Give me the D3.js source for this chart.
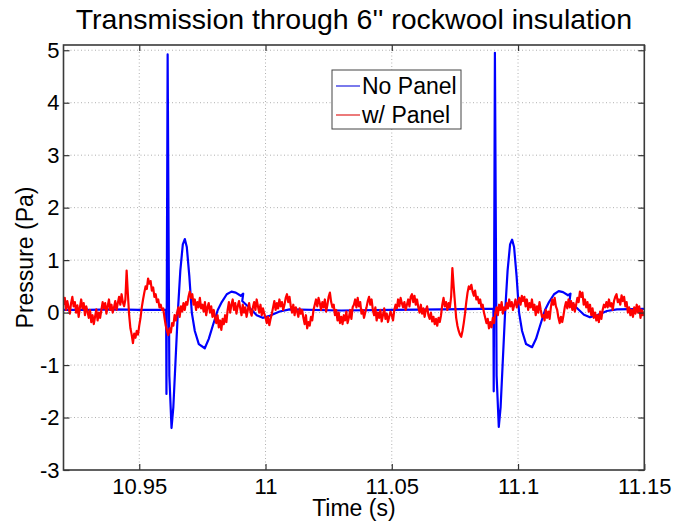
<!DOCTYPE html>
<html><head><meta charset="utf-8">
<script src="https://cdn.jsdelivr.net/npm/d3@7"></script>
<style>
html,body{margin:0;padding:0;background:#fff;}
svg text{font-family:"Liberation Sans",Arial,Helvetica,sans-serif;fill:#000;}
</style></head>
<body>
<svg id="chart" width="675" height="522"></svg>
<script>
// ---- data ----
const titleText = "Transmission through 6'' rockwool insulation";
const xLabel = "Time (s)";
const yLabel = "Pressure (Pa)";
const xTicks = [10.95, 11, 11.05, 11.1, 11.15];
const xTickLabels = ["10.95", "11", "11.05", "11.1", "11.15"];
const yTicks = [-3, -2, -1, 0, 1, 2, 3, 4, 5];
const yTickLabels = ["-3", "-2", "-1", "0", "1", "2", "3", "4", "5"];
const seriesNames = ["No Panel", "w/ Panel"];

// No Panel (blue): time (s) and pressure (Pa)
const blueT = [10.9200, 10.9300, 10.9400, 10.9500, 10.9600, 10.96065, 10.96077, 10.96124, 10.96191, 10.96278,
  10.96350, 10.96429, 10.96527, 10.96626, 10.96725, 10.96804, 10.96883, 10.96982, 10.97081, 10.97200,
  10.97358, 10.97595, 10.97753, 10.97911, 10.98109, 10.98267, 10.98465, 10.98651, 10.98821, 10.99019,
  10.99117, 10.99078, 10.99256, 10.99454, 10.99651, 10.99889, 11.00165, 11.00561, 11.00956, 11.0300,
  11.0500, 11.0700, 11.0850, 11.09025, 11.09037, 11.09084, 11.09151, 11.09238, 11.09310, 11.09389,
  11.09487, 11.09586, 11.09685, 11.09764, 11.09843, 11.09942, 11.10041, 11.10160, 11.10318, 11.10555,
  11.10713, 11.10871, 11.11069, 11.11227, 11.11425, 11.11611, 11.11781, 11.11979, 11.12077, 11.12038,
  11.12216, 11.12414, 11.12611, 11.12849, 11.13125, 11.13521, 11.13916, 11.1500];
const blueV = [0.05, 0.05, 0.06, 0.05, 0.05, 0.05, -1.55, 4.92, -1.2, -2.2,
  -1.8, -1.0, 0.0, 0.8, 1.3, 1.4, 1.25, 0.7, 0.0, -0.35,
  -0.6, -0.68, -0.5, -0.25, 0.05, 0.2, 0.35, 0.4, 0.38, 0.32,
  0.36, 0.22, 0.14, 0.05, -0.05, -0.1, -0.06, 0.02, 0.06, 0.04,
  0.05, 0.06, 0.07, 0.07, -1.5, 4.95, -1.2, -2.18, -1.8, -1.0,
  0.0, 0.8, 1.3, 1.39, 1.25, 0.7, 0.0, -0.35, -0.6, -0.66,
  -0.5, -0.25, 0.05, 0.2, 0.35, 0.41, 0.39, 0.33, 0.36, 0.22,
  0.14, 0.05, -0.04, -0.09, -0.05, 0.03, 0.06, 0.07];

// w/ Panel (red): sampled every 0.5 ms from 10.92 s
const redStart = 10.92;
const redStep = 0.0005;
const redV = [
  0.15, 0.28, 0.05, 0.22, 0.10, -0.02, 0.18, 0.30, 0.12, 0.20,
  0.00, 0.14, -0.08, 0.10, 0.25, 0.08, 0.18, -0.05, 0.12, 0.02,
  -0.10, 0.05, -0.18, -0.05, -0.22, -0.08, 0.06, -0.15, 0.00, -0.10,
  0.05, 0.20, 0.08, 0.18, -0.02, 0.12, 0.25, 0.05, 0.15, 0.00,
  0.10, 0.22, 0.05, 0.18, 0.30, 0.15, 0.35, 0.20, 0.12, 0.25,
  0.80, 0.35, -0.05, -0.30, -0.42, -0.58, -0.40, -0.48, -0.35, -0.42,
  -0.25, -0.10, 0.10, 0.25, 0.38, 0.50, 0.45, 0.65, 0.55, 0.60,
  0.42, 0.48, 0.30, 0.35, 0.20, 0.25, 0.10, 0.15, 0.05, 0.08,
  -0.10, -0.25, -0.35, -0.43, -0.30, -0.38, -0.20, -0.25, -0.05, -0.15,
  0.00, 0.10, -0.08, 0.12, 0.02, 0.18, 0.05, 0.20, 0.15, 0.30,
  0.40, 0.28, 0.35, 0.15, 0.25, 0.05, 0.20, 0.10, 0.28, 0.08,
  0.15, 0.02, 0.20, -0.05, 0.10, 0.18, 0.00, 0.12, -0.08, 0.05,
  -0.10, -0.20, -0.05, -0.28, -0.15, -0.33, -0.12, -0.22, -0.05, -0.18,
  0.05, 0.20, 0.00, 0.15, 0.25, 0.05, 0.18, -0.02, 0.12, 0.22,
  0.08, -0.05, 0.15, 0.00, 0.10, -0.08, 0.05, 0.18, 0.02, -0.06,
  0.10, 0.20, 0.05, 0.25, 0.12, 0.00, 0.15, -0.05, 0.08, -0.02,
  -0.10, -0.20, -0.08, -0.24, -0.12, -0.02, 0.10, 0.22, 0.05, 0.18,
  0.08, 0.25, 0.12, 0.20, 0.05, 0.15, 0.28, 0.35, 0.20, 0.30,
  0.12, 0.00, 0.15, -0.05, 0.10, 0.02, -0.08, 0.08, -0.02, 0.05,
  -0.10, -0.22, -0.05, -0.30, -0.18, -0.25, -0.08, -0.15, 0.05, 0.15,
  0.25, 0.12, 0.28, 0.18, 0.05, 0.20, 0.10, 0.25, 0.02, 0.15,
  0.30, 0.38, 0.20, 0.10, 0.15, -0.05, 0.05, -0.15, 0.00, -0.20,
  -0.08, -0.22, -0.05, -0.15, 0.02, -0.20, -0.10, 0.05, -0.12, 0.10,
  0.15, 0.25, 0.10, 0.28, 0.12, 0.20, -0.02, 0.05, -0.10, 0.00,
  0.10, 0.22, 0.30, 0.15, 0.25, 0.05, -0.05, 0.10, -0.15, 0.00,
  -0.10, 0.05, -0.17, -0.05, 0.08, -0.12, -0.02, -0.18, -0.08, 0.02,
  -0.05, -0.15, 0.05, 0.15, 0.08, 0.25, 0.12, 0.28, 0.18, 0.10,
  0.20, 0.05, 0.15, 0.25, 0.12, 0.30, 0.35, 0.20, 0.32, 0.15,
  0.25, 0.10, 0.00, 0.15, -0.02, 0.08, -0.08, 0.05, 0.12, -0.05,
  -0.12, 0.00, -0.17, -0.08, -0.22, -0.12, -0.25, -0.10, -0.18, -0.05,
  0.15, 0.28, 0.12, 0.20, 0.05, 0.18, 0.10, 0.30, 0.85, 0.50,
  0.20, -0.10, -0.25, -0.35, -0.42, -0.46, -0.35, -0.20, -0.02, 0.20,
  0.38, 0.50, 0.45, 0.53, 0.40, 0.32, 0.42, 0.25, 0.30, 0.18,
  0.25, 0.10, 0.15, 0.00, -0.10, -0.20, -0.12, -0.30, -0.18, -0.28,
  -0.10, -0.20, 0.00, 0.10, -0.05, 0.15, 0.05, 0.20, -0.02, 0.10,
  0.05, 0.18, 0.08, 0.25, 0.12, 0.20, 0.05, 0.15, 0.25, 0.10,
  0.20, 0.28, 0.15, 0.32, 0.22, 0.30, 0.12, 0.25, 0.05, 0.18,
  0.10, 0.25, 0.05, 0.15, -0.05, 0.12, 0.00, 0.20, 0.05, -0.08,
  -0.05, -0.15, 0.05, -0.10, 0.02, -0.12, 0.10, 0.25, 0.15, 0.28,
  0.12, 0.05, -0.10, -0.20, -0.08, -0.18, -0.05, 0.10, 0.20, 0.08,
  0.25, 0.10, 0.22, 0.05, 0.18, 0.02, 0.15, 0.28, 0.20, 0.40,
  0.30, 0.38, 0.15, 0.25, 0.10, 0.20, 0.02, 0.15, -0.05, 0.08,
  -0.10, 0.00, -0.15, -0.05, -0.18, 0.02, -0.12, 0.05, 0.15, 0.10,
  0.20, 0.10, 0.25, 0.12, 0.18, 0.05, 0.22, 0.30, 0.35, 0.20,
  0.25, 0.15, 0.33, 0.22, 0.30, 0.12, 0.20, 0.00, 0.10, -0.05,
  0.05, -0.08, 0.10, -0.02, 0.15, 0.00, 0.12, -0.10, 0.05, -0.05, 0.02
];

// ---- layout ----
const pL = 63.5, pR = 644.3, pT = 45, pB = 470;
const svg = d3.select("#chart");
const x = d3.scaleLinear().domain([10.92, 11.15]).range([pL, pR]);
const y = d3.scaleLinear().domain([-3, 5.1]).range([pB, pT]);

const blueData = blueT.map((t, i) => [t, blueV[i]]);
const redData = redV.map((v, i) => [redStart + i * redStep, v]);

// grid
const grid = svg.append("g").attr("stroke", "#b0b0b0").attr("stroke-width", 1).attr("stroke-dasharray", "1,2.5");
xTicks.filter(t => t < 11.149).forEach(t => {
  grid.append("line").attr("x1", x(t)).attr("x2", x(t)).attr("y1", pT).attr("y2", pB);
});
yTicks.filter(t => t > -3).forEach(t => {
  grid.append("line").attr("x1", pL).attr("x2", pR).attr("y1", y(t)).attr("y2", y(t));
});

// clip
svg.append("clipPath").attr("id", "clip").append("rect")
  .attr("x", pL).attr("y", pT).attr("width", pR - pL).attr("height", pB - pT);

const line = d3.line().x(d => x(d[0])).y(d => y(d[1]));
const plot = svg.append("g").attr("clip-path", "url(#clip)");
plot.append("path").datum(blueData).attr("d", line)
  .attr("fill", "none").attr("stroke", "#0000ff").attr("stroke-width", 2.2).attr("stroke-linejoin", "round");
plot.append("path").datum(redData).attr("d", line)
  .attr("fill", "none").attr("stroke", "#ff0000").attr("stroke-width", 2.2).attr("stroke-linejoin", "round");

// axes with inward ticks
const fmt = (labels, ticks) => (d) => { const i = ticks.indexOf(d); return i >= 0 ? labels[i] : ""; };
const xAxis = d3.axisBottom(x).tickValues(xTicks).tickFormat(fmt(xTickLabels, xTicks)).tickSizeInner(-6).tickSizeOuter(0).tickPadding(8);
const yAxis = d3.axisLeft(y).tickValues(yTicks).tickFormat(fmt(yTickLabels, yTicks)).tickSizeInner(-6).tickSizeOuter(0).tickPadding(4);
const xTop = d3.axisTop(x).tickValues(xTicks).tickFormat("").tickSizeInner(-6).tickSizeOuter(0);
const yRight = d3.axisRight(y).tickValues(yTicks).tickFormat("").tickSizeInner(-6).tickSizeOuter(0);

function styleAxis(g) {
  g.select(".domain").remove();
  g.selectAll(".tick line").attr("stroke", "#333").attr("stroke-width", 1.2);
  g.selectAll(".tick text").attr("font-size", 22).attr("fill", "#000")
    .attr("font-family", "Liberation Sans, Arial, sans-serif");
}
svg.append("g").attr("transform", `translate(0,${pB})`).call(xAxis).call(styleAxis);
svg.append("g").attr("transform", `translate(${pL},0)`).call(yAxis).call(styleAxis);
svg.append("g").attr("transform", `translate(0,${pT})`).call(xTop).call(styleAxis);
svg.append("g").attr("transform", `translate(${pR},0)`).call(yRight).call(styleAxis);

// box
svg.append("rect").attr("x", pL).attr("y", pT).attr("width", pR - pL).attr("height", pB - pT)
  .attr("fill", "none").attr("stroke", "#3a3a3a").attr("stroke-width", 1.6);

// title and labels
svg.append("text").attr("x", (pL + pR) / 2).attr("y", 29).attr("text-anchor", "middle")
  .attr("font-size", 28.5).text(titleText);
svg.append("text").attr("x", (pL + pR) / 2).attr("y", 516).attr("text-anchor", "middle")
  .attr("font-size", 23).text(xLabel);
svg.append("text").attr("transform", `translate(33,${(pT + pB) / 2}) rotate(-90)`)
  .attr("text-anchor", "middle").attr("font-size", 23).text(yLabel);

// legend
const lg = svg.append("g");
lg.append("rect").attr("x", 332).attr("y", 70).attr("width", 129).attr("height", 59)
  .attr("fill", "#fff").attr("stroke", "#444").attr("stroke-width", 1);
const legColors = ["#2020e0", "#e02020"];
seriesNames.forEach((name, i) => {
  const ly = 86 + i * 29;
  lg.append("line").attr("x1", 336).attr("x2", 360).attr("y1", ly).attr("y2", ly)
    .attr("stroke", legColors[i]).attr("stroke-width", 1.2);
  lg.append("text").attr("x", 362).attr("y", ly).attr("dy", "0.35em")
    .attr("font-size", 23).text(name);
});
</script>
</body></html>
